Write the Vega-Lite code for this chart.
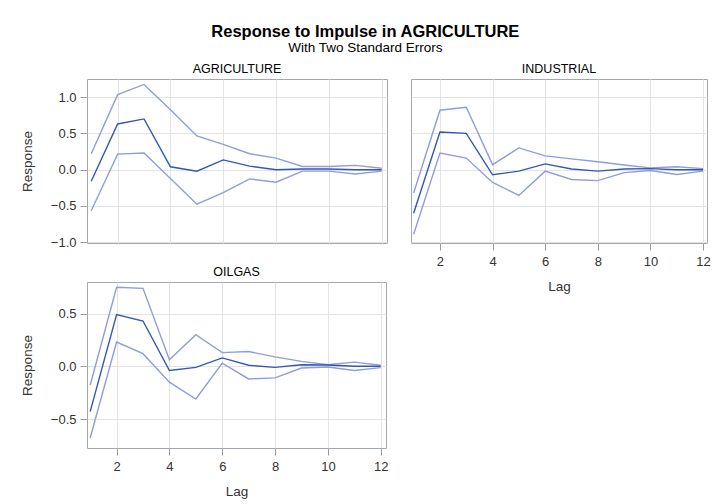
{
  "$schema": "https://vega.github.io/schema/vega-lite/v6.json",
  "padding": {"left": 19, "top": 24, "right": 5, "bottom": 5},
  "background": "white",
  "title": {
    "text": "Response to Impulse in AGRICULTURE",
    "subtitle": "With Two Standard Errors",
    "anchor": "middle",
    "font": "Liberation Sans",
    "fontSize": 16.5,
    "fontWeight": "bold",
    "color": "black",
    "subtitleFont": "Liberation Sans",
    "subtitleFontSize": 13.5,
    "subtitleColor": "black",
    "subtitlePadding": 0,
    "offset": 8
  },
  "datasets": {
    "irf": [
      {"panel": "AGRICULTURE", "lag": 1, "est": -0.16, "lo": -0.565, "hi": 0.22},
      {"panel": "AGRICULTURE", "lag": 2, "est": 0.63, "lo": 0.215, "hi": 1.035},
      {"panel": "AGRICULTURE", "lag": 3, "est": 0.70, "lo": 0.23, "hi": 1.175},
      {"panel": "AGRICULTURE", "lag": 4, "est": 0.04, "lo": -0.12, "hi": 0.825},
      {"panel": "AGRICULTURE", "lag": 5, "est": -0.02, "lo": -0.475, "hi": 0.466},
      {"panel": "AGRICULTURE", "lag": 6, "est": 0.135, "lo": -0.315, "hi": 0.35},
      {"panel": "AGRICULTURE", "lag": 7, "est": 0.05, "lo": -0.127, "hi": 0.22},
      {"panel": "AGRICULTURE", "lag": 8, "est": 0.0, "lo": -0.173, "hi": 0.16},
      {"panel": "AGRICULTURE", "lag": 9, "est": 0.01, "lo": -0.02, "hi": 0.045},
      {"panel": "AGRICULTURE", "lag": 10, "est": 0.01, "lo": -0.02, "hi": 0.045},
      {"panel": "AGRICULTURE", "lag": 11, "est": 0.0, "lo": -0.06, "hi": 0.06},
      {"panel": "AGRICULTURE", "lag": 12, "est": 0.0, "lo": -0.02, "hi": 0.02},
      {"panel": "INDUSTRIAL", "lag": 1, "est": -0.60, "lo": -0.89, "hi": -0.32},
      {"panel": "INDUSTRIAL", "lag": 2, "est": 0.52, "lo": 0.23, "hi": 0.82},
      {"panel": "INDUSTRIAL", "lag": 3, "est": 0.50, "lo": 0.16, "hi": 0.86},
      {"panel": "INDUSTRIAL", "lag": 4, "est": -0.07, "lo": -0.175, "hi": 0.07},
      {"panel": "INDUSTRIAL", "lag": 5, "est": -0.02, "lo": -0.355, "hi": 0.30},
      {"panel": "INDUSTRIAL", "lag": 6, "est": 0.08, "lo": -0.02, "hi": 0.19},
      {"panel": "INDUSTRIAL", "lag": 7, "est": 0.01, "lo": -0.135, "hi": 0.15},
      {"panel": "INDUSTRIAL", "lag": 8, "est": -0.02, "lo": -0.15, "hi": 0.11},
      {"panel": "INDUSTRIAL", "lag": 9, "est": 0.01, "lo": -0.04, "hi": 0.065},
      {"panel": "INDUSTRIAL", "lag": 10, "est": 0.015, "lo": -0.01, "hi": 0.025},
      {"panel": "INDUSTRIAL", "lag": 11, "est": 0.0, "lo": -0.065, "hi": 0.04},
      {"panel": "INDUSTRIAL", "lag": 12, "est": 0.0, "lo": -0.02, "hi": 0.015},
      {"panel": "OILGAS", "lag": 1, "est": -0.43, "lo": -0.68, "hi": -0.18},
      {"panel": "OILGAS", "lag": 2, "est": 0.49, "lo": 0.23, "hi": 0.75},
      {"panel": "OILGAS", "lag": 3, "est": 0.43, "lo": 0.12, "hi": 0.74},
      {"panel": "OILGAS", "lag": 4, "est": -0.04, "lo": -0.15, "hi": 0.063},
      {"panel": "OILGAS", "lag": 5, "est": -0.01, "lo": -0.31, "hi": 0.30},
      {"panel": "OILGAS", "lag": 6, "est": 0.08, "lo": 0.03, "hi": 0.13},
      {"panel": "OILGAS", "lag": 7, "est": 0.01, "lo": -0.12, "hi": 0.14},
      {"panel": "OILGAS", "lag": 8, "est": -0.01, "lo": -0.11, "hi": 0.09},
      {"panel": "OILGAS", "lag": 9, "est": 0.015, "lo": -0.016, "hi": 0.047},
      {"panel": "OILGAS", "lag": 10, "est": 0.012, "lo": -0.006, "hi": 0.015},
      {"panel": "OILGAS", "lag": 11, "est": 0.0, "lo": -0.04, "hi": 0.04},
      {"panel": "OILGAS", "lag": 12, "est": 0.0, "lo": -0.012, "hi": 0.01}
    ]
  },
  "config": {
    "font": "Liberation Sans",
    "view": {"stroke": "#a4a8ae", "strokeWidth": 1},
    "axis": {
      "domain": false,
      "gridColor": "#e3e3e3",
      "gridWidth": 1,
      "tickColor": "#9a9a9a",
      "tickSize": 7,
      "labelFont": "Liberation Sans",
      "labelFontSize": 13,
      "labelColor": "#333333",
      "titleFont": "Liberation Sans",
      "titleFontSize": 13.5,
      "titleFontWeight": "normal",
      "titleColor": "#333333"
    },
    "title": {"font": "Liberation Sans", "fontSize": 12.5, "fontWeight": "normal", "color": "black", "offset": 4},
    "line": {"strokeWidth": 1.4}
  },
  "columns": 2,
  "spacing": {"row": 39, "column": 24},
  "bounds": "flush",
  "concat": [
    {
      "width": 300,
      "height": 164,
      "title": "AGRICULTURE",
      "data": {"name": "irf"},
      "transform": [{"filter": "datum.panel === 'AGRICULTURE'"}],
      "encoding": {
        "x": {"field": "lag", "type": "quantitative", "scale": {"domain": [0.84, 12.2], "nice": false, "zero": false},
              "axis": {"values": [2, 4, 6, 8, 10, 12], "labels": false, "ticks": false, "title": null}}
      },
      "layer": [
        {"mark": {"type": "line", "color": "#8e9ed8"},
         "encoding": {"y": {"field": "hi", "type": "quantitative", "scale": {"domain": [-1.01, 1.25], "nice": false},
                            "axis": {"values": [-1, -0.5, 0, 0.5, 1], "format": ".1f", "title": "Response", "titlePadding": 16, "labelPadding": 4}}}},
        {"mark": {"type": "line", "color": "#8e9ed8"}, "encoding": {"y": {"field": "lo", "type": "quantitative"}}},
        {"mark": {"type": "line", "color": "#3457b0"}, "encoding": {"y": {"field": "est", "type": "quantitative"}}}
      ]
    },
    {
      "width": 296,
      "height": 164,
      "title": "INDUSTRIAL",
      "data": {"name": "irf"},
      "transform": [{"filter": "datum.panel === 'INDUSTRIAL'"}],
      "encoding": {
        "x": {"field": "lag", "type": "quantitative", "scale": {"domain": [0.9, 12.15], "nice": false, "zero": false},
              "axis": {"values": [2, 4, 6, 8, 10, 12], "title": "Lag", "titlePadding": 11, "labelPadding": 5}}
      },
      "layer": [
        {"mark": {"type": "line", "color": "#8e9ed8"},
         "encoding": {"y": {"field": "hi", "type": "quantitative", "scale": {"domain": [-1.01, 1.25], "nice": false},
                            "axis": {"values": [-1, -0.5, 0, 0.5, 1], "labels": false, "ticks": false, "title": null}}}},
        {"mark": {"type": "line", "color": "#8e9ed8"}, "encoding": {"y": {"field": "lo", "type": "quantitative"}}},
        {"mark": {"type": "line", "color": "#3457b0"}, "encoding": {"y": {"field": "est", "type": "quantitative"}}}
      ]
    },
    {
      "width": 299,
      "height": 166,
      "title": "OILGAS",
      "data": {"name": "irf"},
      "transform": [{"filter": "datum.panel === 'OILGAS'"}],
      "encoding": {
        "x": {"field": "lag", "type": "quantitative", "scale": {"domain": [0.88, 12.2], "nice": false, "zero": false},
              "axis": {"values": [2, 4, 6, 8, 10, 12], "title": "Lag", "titlePadding": 11, "labelPadding": 5}}
      },
      "layer": [
        {"mark": {"type": "line", "color": "#8e9ed8"},
         "encoding": {"y": {"field": "hi", "type": "quantitative", "scale": {"domain": [-0.775, 0.8], "nice": false},
                            "axis": {"values": [-0.5, 0, 0.5], "format": ".1f", "title": "Response", "titlePadding": 16, "labelPadding": 4}}}},
        {"mark": {"type": "line", "color": "#8e9ed8"}, "encoding": {"y": {"field": "lo", "type": "quantitative"}}},
        {"mark": {"type": "line", "color": "#3457b0"}, "encoding": {"y": {"field": "est", "type": "quantitative"}}}
      ]
    }
  ]
}
